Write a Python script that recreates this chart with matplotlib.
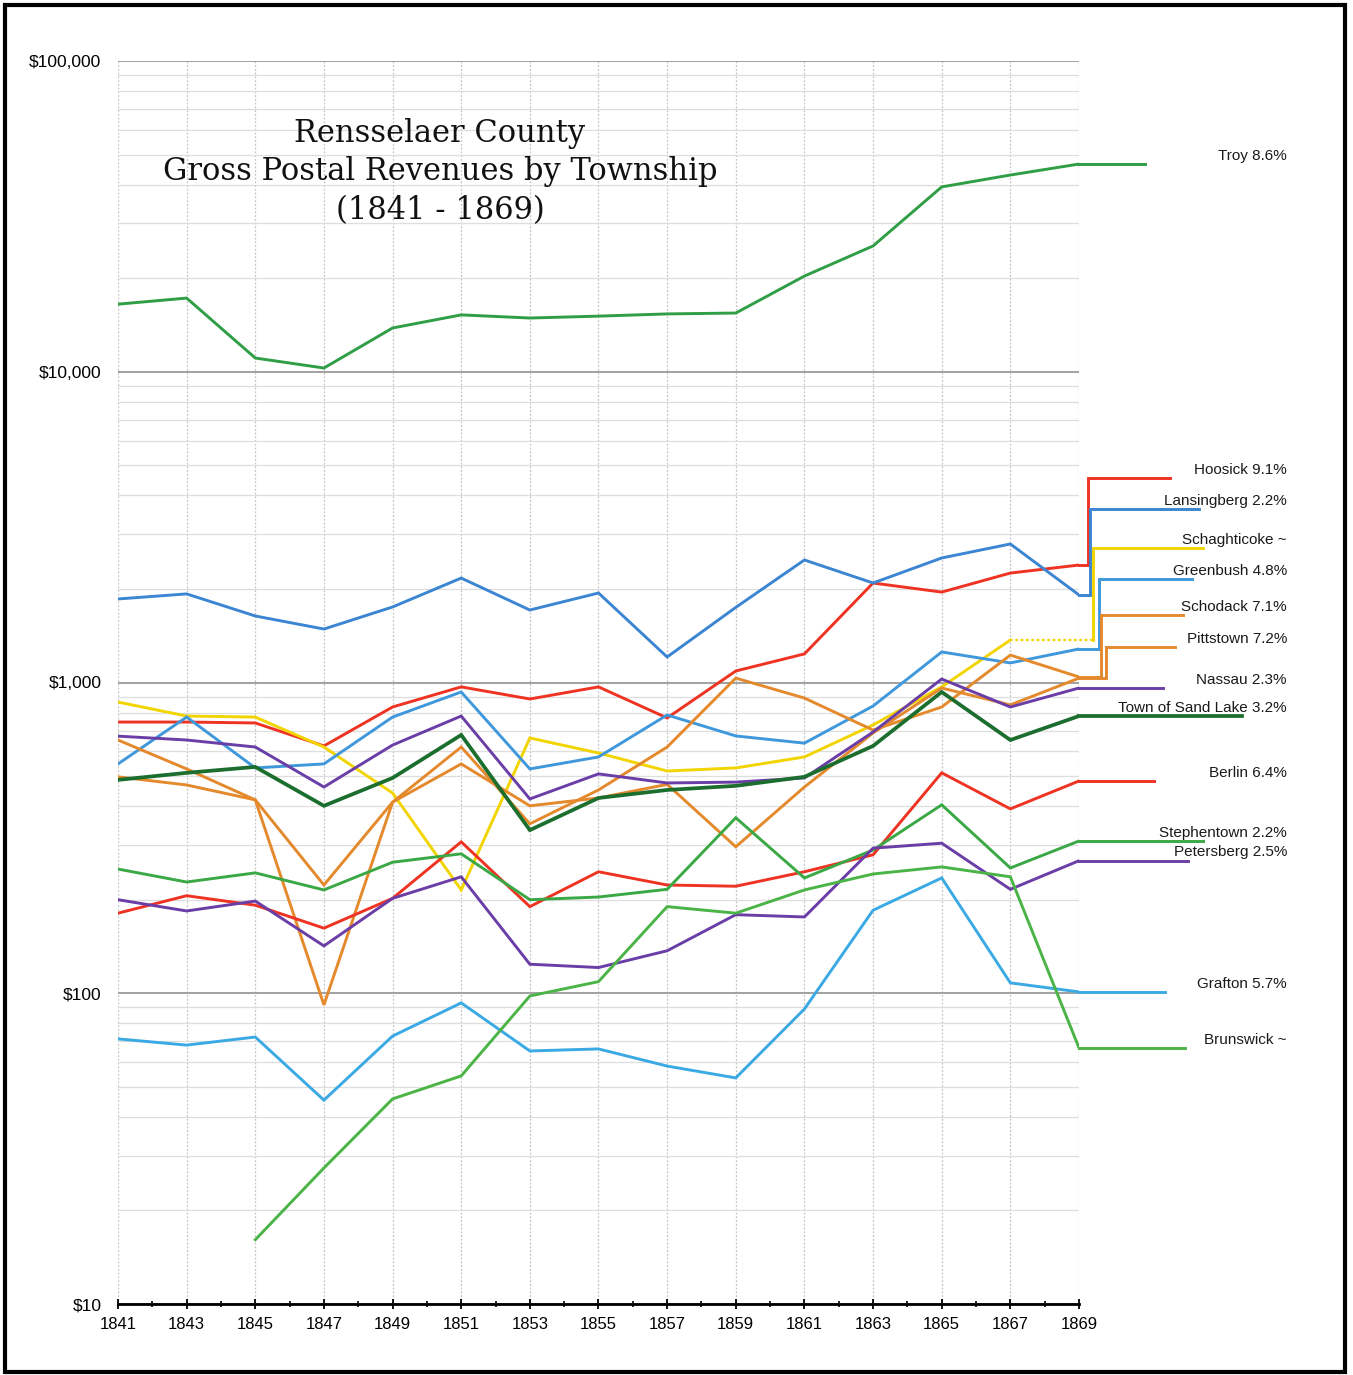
import matplotlib
matplotlib.use("Agg")
import matplotlib.pyplot as plt
import matplotlib.ticker as mticker
from matplotlib.patches import Rectangle
import numpy as np

nan = np.nan

# gross postal revenue (dollars), one value every second year
years = list(range(1841, 1870, 2))

troy = [16500, 17260, 11070, 10280, 13830, 15240, 14890, 15100, 15350, 15450, 20320, 25400, 39340, 42960, 46600]
hoosick = [746, 746, 741, 625, 834, 968, 885, 968, 769, 1089, 1236, 2090, 1954, 2250, 2388]
lansingberg = [1857, 1928, 1637, 1486, 1750, 2168, 1711, 1941, 1208, 1745, 2479, 2090, 2516, 2791, 1913]
schaghticoke = [865, 780, 774, 620, 441, 215, 663, 593, 519, 531, 576, 730, 968, 1370, nan]
greenbush = [547, 774, 531, 547, 774, 932, 527, 576, 786, 673, 638, 840, 1254, 1156, 1282]
schodack = [653, 527, 419, 223, 412, 620, 351, 451, 620, 1033, 891, 703, 834, 1225, 1042]
pittstown = [497, 468, 419, 91.7, 412, 547, 401, 425, 470, 296, 461, 688, 960, 847, 1033]
nassau = [672, 653, 620, 461, 629, 780, 422, 508, 475, 478, 493, 693, 1026, 834, 960]
sand_lake = [486, 512, 535, 401, 493, 678, 335, 425, 451, 465, 497, 625, 932, 653, 780]
berlin = [181, 206, 192, 162, 202, 307, 190, 246, 223, 221, 246, 279, 512, 392, 482]
stephentown = [251, 228, 244, 215, 264, 281, 200, 204, 216, 367, 235, 289, 404, 253, 309]
petersberg = [200, 184, 198, 142, 202, 237, 124, 121, 137, 179, 176, 293, 304, 216, 267]
grafton = [71.3, 68.1, 72.3, 45.3, 72.8, 93.1, 65.2, 66.2, 58.3, 53.4, 89.0, 185, 235, 108, 101]
brunswick = [nan, nan, 16.1, 27.4, 45.7, 54.2, 98.0, 109, 190, 181, 215, 242, 255, 237, 66.7]

labels = ["Troy 8.6%", "Hoosick 9.1%", "Lansingberg 2.2%", "Schaghticoke ~", "Greenbush 4.8%",
          "Schodack 7.1%", "Pittstown 7.2%", "Nassau 2.3%", "Town of Sand Lake 3.2%",
          "Berlin 6.4%", "Stephentown 2.2%", "Petersberg 2.5%", "Grafton 5.7%", "Brunswick ~"]
series = [troy, hoosick, lansingberg, schaghticoke, greenbush, schodack, pittstown, nassau,
          sand_lake, berlin, stephentown, petersberg, grafton, brunswick]

# styling: colour, line width, and the leader that runs out to each label
# (step x, label level, end x); step/level None means a straight run
colors = ["#2f9e46", "#ef3322", "#3b85d2", "#f2d400", "#3f98dc", "#e4892c", "#e4892c",
          "#6a3ea6", "#1b6e2e", "#ef3322", "#3aa845", "#6a3ea6", "#3aa9e4", "#4ab446"]
widths = [2.1, 2.1, 2.1, 2.1, 2.1, 2.1, 2.1, 2.1, 2.7, 2.1, 2.1, 2.1, 2.1, 2.1]
leaders = [
    (None, None, 1870.92),
    (1869.26, 4550, 1871.65),
    (1869.32, 3614, 1872.50),
    (1869.41, 2710, 1872.61),
    (1869.58, 2153, 1872.29),
    (1869.64, 1649, 1872.03),
    (1869.79, 1301, 1871.80),
    (None, None, 1871.45),
    (None, None, 1873.75),
    (None, None, 1871.19),
    (None, None, 1872.61),
    (None, None, 1872.18),
    (None, None, 1871.51),
    (None, None, 1872.09),
]
label_x = 1875.06

plt.rcParams["font.family"] = ["Liberation Sans", "DejaVu Sans"]

fig = plt.figure(figsize=(13.53, 13.75), dpi=100)
ax = fig.add_axes([118 / 1353, 1 - 1304 / 1375, (1079 - 118) / 1353, (1304 - 61) / 1375])

ax.set_yscale("log")
ax.set_xlim(1841, 1869)
ax.set_ylim(10, 100000)

for vals, color, lw, (step_x, level, end_x), text in zip(series, colors, widths, leaders, labels):
    vals = np.asarray(vals, dtype=float)
    ax.plot(years, vals, color=color, lw=lw, solid_joinstyle="miter", zorder=3)
    valid = ~np.isnan(vals)
    last_year = np.array(years)[valid][-1]
    last_val = vals[valid][-1]
    if step_x is None:
        xs, ys = [last_year, end_x], [last_val, last_val]
        level = last_val
    elif last_year < 1869:
        # figure missing for 1869: carry the last value forward as a dotted run
        ax.plot([last_year, step_x], [last_val, last_val], color=color, lw=1.6,
                ls=(0, (1.2, 1.2)), clip_on=False, zorder=3)
        xs, ys = [step_x, step_x, end_x], [last_val, level, level]
    else:
        xs, ys = [last_year, step_x, step_x, end_x], [last_val, last_val, level, level]
    ax.plot(xs, ys, color=color, lw=lw, clip_on=False, solid_joinstyle="miter", zorder=3)
    ax.annotate(text, xy=(label_x, level), xycoords="data", xytext=(0, 6),
                textcoords="offset points", ha="right", va="center",
                fontsize=11, color="#1a1a1a", annotation_clip=False)

# grid
ax.yaxis.set_major_locator(mticker.LogLocator(base=10))
ax.yaxis.set_minor_locator(mticker.LogLocator(base=10, subs=np.arange(2, 10)))
ax.yaxis.set_major_formatter(mticker.FuncFormatter(lambda v, p: f"${v:,.0f}"))
ax.yaxis.set_minor_formatter(mticker.NullFormatter())
ax.grid(True, which="major", axis="y", color="#9a9a9a", lw=1.3, zorder=1)
ax.grid(True, which="minor", axis="y", color="#dedede", lw=0.9, zorder=1)

ax.set_xticks(years)
ax.set_xticks(range(1841, 1870), minor=True)
ax.grid(True, which="major", axis="x", color="#c4c4c4", lw=0.9, ls=(0, (1.5, 1.5)), zorder=1)

ax.tick_params(axis="y", which="both", length=0, pad=12, labelsize=12.5)
ax.tick_params(axis="x", which="major", direction="inout", length=7, width=1.3, pad=6,
               labelsize=12, color="black")
ax.tick_params(axis="x", which="minor", direction="inout", length=5, width=1.2, color="black")

for side in ("left", "right", "top"):
    ax.spines[side].set_visible(False)
ax.spines["bottom"].set_linewidth(2)
ax.spines["bottom"].set_color("black")
ax.spines["bottom"].set_zorder(4)

ax.text(0.335, 0.9107, "Rensselaer County\nGross Postal Revenues by Township\n(1841 - 1869)",
        transform=ax.transAxes, ha="center", va="center", fontsize=22,
        family="DejaVu Serif", linespacing=1.32, color="#111111", zorder=5)

fig.add_artist(Rectangle((5 / 1353, 3 / 1375), 1340 / 1353, 1367 / 1375,
                         transform=fig.transFigure, fill=False, lw=3, ec="black"))

fig.savefig("out.png", dpi=100, facecolor="white")
